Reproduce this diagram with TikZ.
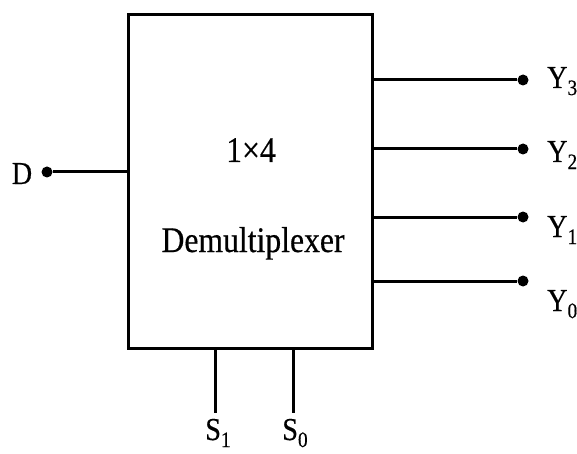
\documentclass[tikz,border=0pt]{standalone}
\usepackage{fontspec}
\setmainfont{Liberation Serif}[FakeStretch=0.88, FakeBold=0.4]
\newcommand{\pinsub}[2]{#1\raisebox{-0.22em}{\fontsize{22}{22}\selectfont #2}}
\begin{document}
\begin{tikzpicture}[x=1pt, y=-1pt,
  dot/.style={shape=circle, fill=black, inner sep=0pt, minimum size=11pt},
  wire/.style={-, line width=3pt, draw=black},
  pinlabel/.style={font=\fontsize{32}{34}\selectfont, inner sep=0pt}]
\useasboundingbox (0,0) rectangle (577,454);
\node[shape=rectangle, draw=black, line width=3pt, minimum width=244pt, minimum height=333pt] (demux) at (250,181.5) {};
\node[font=\fontsize{36}{38}\selectfont, anchor=base, inner sep=0pt] (size) at (251,162) {1×4};
\node[font=\fontsize{36}{38}\selectfont, anchor=base, inner sep=0pt] (name) at (253,252) {Demultiplexer};
\node[dot] (D) at (47,172) {};
\node[pinlabel, anchor=base] (Dlabel) at (22,184) {D};
\node[dot] (Y3) at (523,80) {};
\node[dot] (Y2) at (523,149) {};
\node[dot] (Y1) at (523,217) {};
\node[dot] (Y0) at (523,281) {};
\node[pinlabel, anchor=base west] (Y3label) at (547,88) {\pinsub{Y}{3}};
\node[pinlabel, anchor=base west] (Y2label) at (547,162) {\pinsub{Y}{2}};
\node[pinlabel, anchor=base west] (Y1label) at (547,237) {\pinsub{Y}{1}};
\node[pinlabel, anchor=base west] (Y0label) at (547,311) {\pinsub{Y}{0}};
\coordinate (S1) at (215,413);
\coordinate (S0) at (293,413);
\node[pinlabel, anchor=base] (S1label) at (218,440) {\pinsub{S}{1}};
\node[pinlabel, anchor=base] (S0label) at (295,440) {\pinsub{S}{0}};
\path [wire] (D) edge (D -| demux.west);
\path [wire] (Y3 -| demux.east) edge (Y3);
\path [wire] (Y2 -| demux.east) edge (Y2);
\path [wire] (Y1 -| demux.east) edge (Y1);
\path [wire] (Y0 -| demux.east) edge (Y0);
\path [wire] (S1 |- demux.south) edge (S1);
\path [wire] (S0 |- demux.south) edge (S0);
\end{tikzpicture}
\end{document}
